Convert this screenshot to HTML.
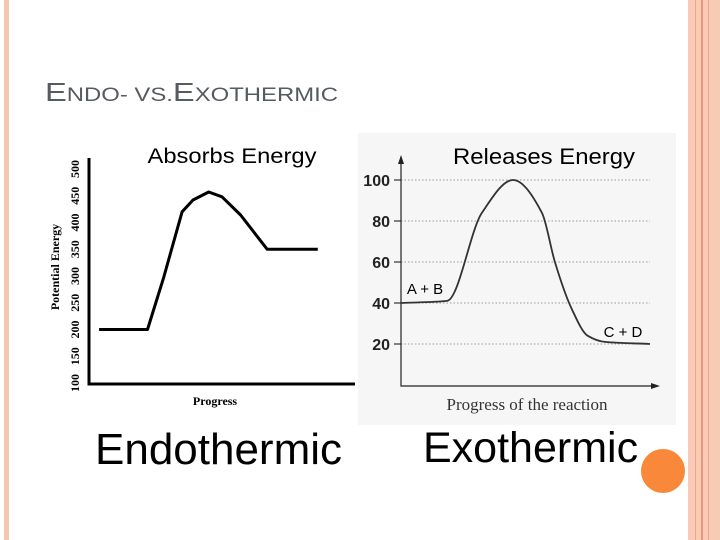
<!DOCTYPE html>
<html><head><meta charset="utf-8"><style>
html,body{margin:0;padding:0;background:#fff;}
svg{display:block;font-family:"Liberation Sans",sans-serif;}
</style></head><body>
<svg width="720" height="540" viewBox="0 0 720 540">
  <rect x="0" y="0" width="720" height="540" fill="#fff"/>
  <rect x="4" y="0" width="5" height="540" fill="#f7c6b0"/>
  <g>
    <rect x="688" y="0" width="32" height="540" fill="#f9cbb6"/>
    <rect x="695" y="0" width="1" height="540" fill="#eaa88c"/>
    <rect x="701" y="0" width="2" height="540" fill="#e39a7c"/>
    <rect x="708" y="0" width="1" height="540" fill="#eaa88c"/>
  </g>
  <text x="45" y="101" fill="#565b61" textLength="293" lengthAdjust="spacingAndGlyphs"><tspan font-size="26">E</tspan><tspan font-size="19">NDO- VS.</tspan><tspan font-size="26">E</tspan><tspan font-size="19">XOTHERMIC</tspan></text>

  <g id="endo">
    <text x="232" y="163" font-size="21" text-anchor="middle" textLength="169" lengthAdjust="spacingAndGlyphs">Absorbs Energy</text>
    <text transform="translate(59,267) rotate(-90)" font-family="Liberation Serif,serif" font-weight="bold" font-size="12" text-anchor="middle">Potential Energy</text>
    <text x="215" y="405" font-family="Liberation Serif,serif" font-weight="bold" font-size="12" text-anchor="middle">Progress</text>
  </g>

  <g id="exo">
    <rect x="358" y="133" width="318" height="292" fill="#f6f6f6"/>
    <text x="544" y="164" font-size="22" text-anchor="middle" textLength="182" lengthAdjust="spacingAndGlyphs">Releases Energy</text>
    <text x="527" y="410" font-family="Liberation Serif,serif" font-size="17" fill="#333" text-anchor="middle">Progress of the reaction</text>
  </g>

  <text x="95" y="464" font-size="44">Endothermic</text>
  <text x="423" y="462" font-size="43">Exothermic</text>
  <circle cx="663" cy="471" r="22" fill="#f9883a"/>
</svg>
<script>
const NS="http://www.w3.org/2000/svg";
// Left chart data
const endoTicks=[100,150,200,250,300,350,400,450,500];
const endoProgress=[3.8,22,28,35,39.1,45,50,57,67,86];
const endoEnergy=[200,200,296,420,442,457,448,414,350,350];
// Right chart data
const exoTicks=[20,40,60,80,100];
const exoProgress=[0,18.5,32.5,45,56.6,61.8,68.6,75,81.9,100];
const exoEnergy=[40,41,84,100,84,60,37,24,21,20];
const exoLabels=["A + B","C + D"];

function mk(tag,attrs,parent){const e=document.createElementNS(NS,tag);for(const k in attrs)e.setAttribute(k,attrs[k]);parent.appendChild(e);return e;}

function monotonePath(pts){
  const n=pts.length,dx=[],s=[],m=[];
  for(let i=0;i<n-1;i++){dx[i]=pts[i+1][0]-pts[i][0];s[i]=(pts[i+1][1]-pts[i][1])/dx[i];}
  m[0]=s[0];m[n-1]=s[n-2];
  for(let i=1;i<n-1;i++){
    if(s[i-1]*s[i]<=0)m[i]=0;
    else{const w1=2*dx[i]+dx[i-1],w2=dx[i]+2*dx[i-1];m[i]=(w1+w2)/(w1/s[i-1]+w2/s[i]);}
  }
  let d='M'+pts[0][0].toFixed(1)+' '+pts[0][1].toFixed(1);
  for(let i=0;i<n-1;i++){
    const h=dx[i]/3;
    d+=` C${(pts[i][0]+h).toFixed(1)} ${(pts[i][1]+m[i]*h).toFixed(1)} ${(pts[i+1][0]-h).toFixed(1)} ${(pts[i+1][1]-m[i+1]*h).toFixed(1)} ${pts[i+1][0].toFixed(1)} ${pts[i+1][1].toFixed(1)}`;
  }
  return d;
}

// left chart
const gL=document.getElementById('endo');
const lx=p=>89+p*2.66, ly=v=>383-(v-100)*0.535;
const ax=mk('path',{d:'M89 158 V384 H355',fill:'none',stroke:'#000','stroke-width':3},gL);


endoTicks.forEach(t=>{
  const tx=mk('text',{transform:`translate(79,${ly(t)}) rotate(-90)`,'font-family':'Liberation Serif,serif','font-weight':'bold','font-size':12,'text-anchor':'middle'},gL);
  tx.textContent=t;
  
  
});
let d='';
endoProgress.forEach((p,i)=>{d+=(i?'L':'M')+lx(p).toFixed(1)+' '+ly(endoEnergy[i]).toFixed(1)+' ';});
const lline=mk('path',{d:d,fill:'none',stroke:'#000','stroke-width':3,'stroke-linejoin':'round'},gL);



// right chart
const gR=document.getElementById('exo');
const rx=p=>401+p*2.49, ry=v=>385-v*2.05;
exoTicks.forEach(t=>{
  const g=mk('line',{x1:401,x2:650,y1:ry(t),y2:ry(t),stroke:'#999','stroke-width':1,'stroke-dasharray':'1.5 2'},gR);
  
  
  const tk=mk('line',{x1:394,x2:401,y1:ry(t),y2:ry(t),stroke:'#333','stroke-width':1.2},gR);
  
  
  const tx=mk('text',{x:390,y:ry(t)+6,'font-size':16,'font-weight':'bold','text-anchor':'end',fill:'#222'},gR);
  tx.textContent=t;
  
  
});
const rax=mk('path',{d:'M401 160 V386 H656',fill:'none',stroke:'#222','stroke-width':1.2},gR);


const arr=mk('path',{d:'M401 155 L398 164 L404 164 Z M660 386 L651 383 L651 389 Z',fill:'#222'},gR);


const pts=exoProgress.map((p,i)=>[rx(p),ry(exoEnergy[i])]);
const rl=mk('path',{d:monotonePath(pts),fill:'none',stroke:'#333','stroke-width':1.8},gR);


const la=mk('text',{x:rx(exoProgress[0])+24,y:ry(exoEnergy[0])-9,'font-size':15,'text-anchor':'middle'},gR);
la.textContent=exoLabels[0];


const lb=mk('text',{x:rx(exoProgress[exoProgress.length-1])-27,y:ry(exoEnergy[exoEnergy.length-1])-7,'font-size':15,'text-anchor':'middle'},gR);
lb.textContent=exoLabels[1];


</script>
</body></html>
